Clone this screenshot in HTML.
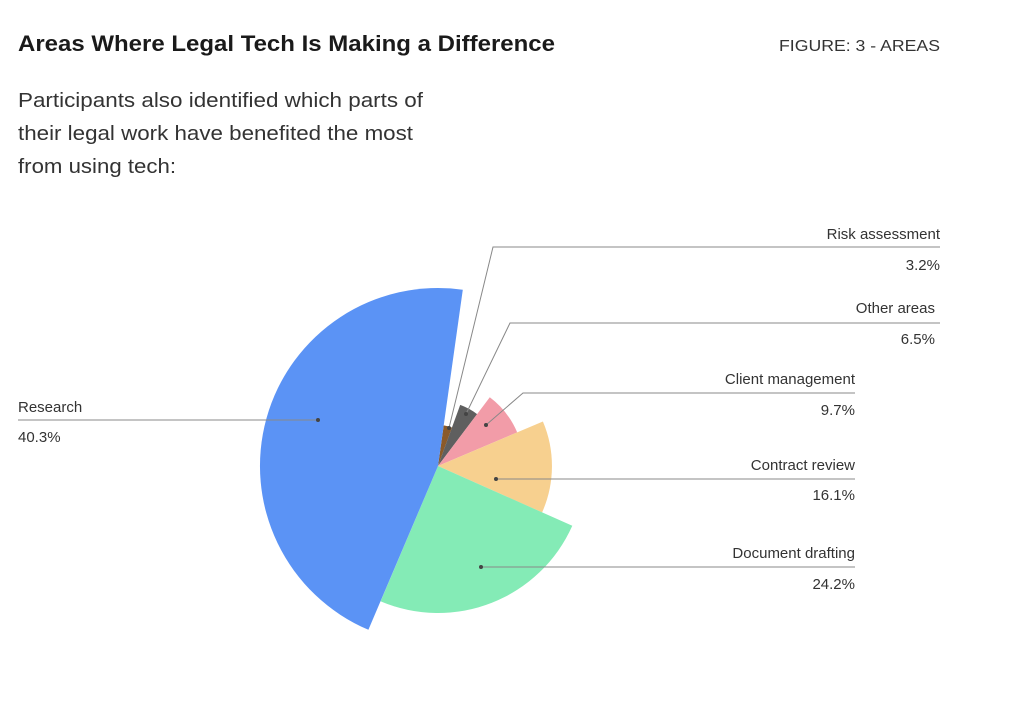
<!DOCTYPE html>
<html><head><meta charset="utf-8"><style>
html,body{margin:0;padding:0;background:#fff;width:1024px;height:721px;overflow:hidden}
body{font-family:"Liberation Sans",sans-serif;color:#222}
</style></head><body>
<svg id="s" width="1024" height="721" xmlns="http://www.w3.org/2000/svg" font-family="Liberation Sans, sans-serif">
<text x="18" y="51" font-size="22" font-weight="bold" fill="#1a1a1a" textLength="537" lengthAdjust="spacingAndGlyphs">Areas Where Legal Tech Is Making a Difference</text>
<text x="779" y="51" font-size="16" fill="#333" textLength="161" lengthAdjust="spacingAndGlyphs">FIGURE: 3 - AREAS</text>
<g font-size="20" fill="#333">
<text x="18" y="107" textLength="405" lengthAdjust="spacingAndGlyphs">Participants also identified which parts of</text>
<text x="18" y="140" textLength="395" lengthAdjust="spacingAndGlyphs">their legal work have benefited the most</text>
<text x="18" y="173" textLength="158" lengthAdjust="spacingAndGlyphs">from using tech:</text>
</g>
<g id="pie"></g>
<g stroke="#888" stroke-width="1" fill="none">
<polyline points="449,428 493,247 940,247"/>
<polyline points="466,414 510,323 940,323"/>
<polyline points="486,425 523,393 855,393"/>
<polyline points="496,479 855,479"/>
<polyline points="481,567 855,567"/>
<polyline points="318,420 18,420"/>
</g>
<g fill="#444">
<circle cx="449" cy="428" r="2"/><circle cx="466" cy="414" r="2"/><circle cx="486" cy="425" r="2"/>
<circle cx="496" cy="479" r="2"/><circle cx="481" cy="567" r="2"/><circle cx="318" cy="420" r="2"/>
</g>
<g font-size="15" fill="#333" text-anchor="end">
<text x="940" y="239">Risk assessment</text><text x="940" y="270">3.2%</text>
<text x="935" y="313">Other areas</text><text x="935" y="344">6.5%</text>
<text x="855" y="384">Client management</text><text x="855" y="415">9.7%</text>
<text x="855" y="470">Contract review</text><text x="855" y="500">16.1%</text>
<text x="855" y="558">Document drafting</text><text x="855" y="589">24.2%</text>
</g>
<g font-size="15" fill="#333"><text x="18" y="412">Research</text><text x="18" y="442">40.3%</text></g>
</svg>
<script>
var cx=438,cy=466;
var sl=[[8,20,41,"#8a5a2a"],[20,37,65,"#5f5f5f"],[37,67,86,"#f29ca8"],[67,114,114,"#f7d08f"],[114,203,147,"#84ebb6"],[203,368,178,"#5b93f5"]];
function p(a,r){var t=a*Math.PI/180;return (cx+r*Math.sin(t)).toFixed(1)+","+(cy-r*Math.cos(t)).toFixed(1);}
var h="";
sl.forEach(function(s){var large=(s[1]-s[0])>180?1:0;
h+='<path fill="'+s[3]+'" d="M'+cx+','+cy+' L'+p(s[0],s[2])+' A'+s[2]+','+s[2]+' 0 '+large+' 1 '+p(s[1],s[2])+' Z"/>';});
document.getElementById("pie").innerHTML=h;
</script>
</body></html>
